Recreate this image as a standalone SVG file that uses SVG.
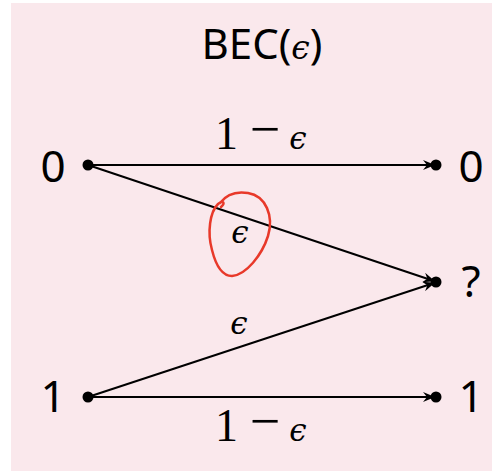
<svg xmlns="http://www.w3.org/2000/svg" width="492" height="471" viewBox="0 0 492 471">
<defs>
<style>
.t{font-family:"Noto Sans","DejaVu Sans",sans-serif;fill:#000}
.n{font-family:"Noto Sans","DejaVu Sans",sans-serif;font-size:44px;fill:#000;text-anchor:middle}
.r{font-family:"Liberation Serif","DejaVu Serif",serif;fill:#000;text-anchor:middle}
.e{font-family:"DejaVu Serif","Liberation Serif",serif;font-style:italic;font-size:31px;fill:#000;text-anchor:middle}
.edge{stroke:#000;stroke-width:2;fill:none}
</style>
<marker id="arr" viewBox="0 0 12 10" refX="11" refY="5" markerWidth="12" markerHeight="10" markerUnits="userSpaceOnUse" orient="auto">
<path d="M0,0 L12,5 L0,10 L4,5 Z" fill="#000"/>
</marker>
</defs>
<rect x="11" y="3" width="481" height="468" fill="#fae8ec"/>
<text class="t" x="262" y="59" font-size="42" text-anchor="middle">BEC(<tspan font-family="DejaVu Serif,serif" font-style="italic" font-size="33">ϵ</tspan>)</text>
<g id="connectors">
<line class="edge" x1="88" y1="165" x2="434" y2="165" marker-end="url(#arr)"/>
<line class="edge" x1="88" y1="165" x2="434" y2="281" marker-end="url(#arr)"/>
<line class="edge" x1="88" y1="397" x2="434" y2="283" marker-end="url(#arr)"/>
<line class="edge" x1="88" y1="397" x2="434" y2="397" marker-end="url(#arr)"/>
<text class="r" x="226.5" y="149" font-size="46">1</text>
<text class="r" x="265" y="147" font-size="54">−</text>
<text class="e" x="298" y="149">ϵ</text>
<text class="e" x="240" y="243">ϵ</text>
<text class="e" x="239" y="334">ϵ</text>
<text class="r" x="226.5" y="441" font-size="46">1</text>
<text class="r" x="265" y="439" font-size="54">−</text>
<text class="e" x="298" y="441">ϵ</text>
</g>
<g id="n0l"><circle cx="88" cy="165" r="5.5"/><text class="n" x="53" y="182">0</text></g>
<g id="n1l"><circle cx="88" cy="397" r="5.5"/><text class="n" x="53" y="412">1</text></g>
<g id="n0r"><circle cx="436" cy="165" r="5.5"/><text class="n" x="471" y="182">0</text></g>
<g id="nqr"><circle cx="436" cy="282" r="5.5"/><text class="n" x="471" y="297">?</text></g>
<g id="n1r"><circle cx="436" cy="397" r="5.5"/><text class="n" x="471" y="412">1</text></g>
<path d="M221,207 C226,203 223,200 218,204 C210,212 207,232 212,250 C216,266 222,276 232,276 C246,275 262,255 268,236 C274,216 266,196 248,193 C236,191 226,195 220,203" fill="none" stroke="#e8392a" stroke-width="2.5" stroke-linecap="round"/>
</svg>
